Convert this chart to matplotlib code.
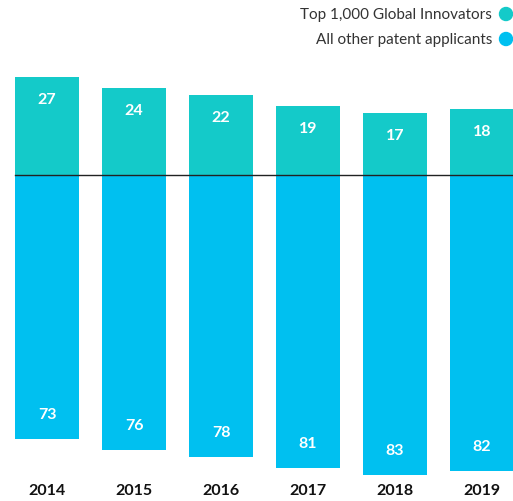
import numpy as np
import matplotlib.pyplot as plt
from matplotlib.patches import Ellipse

plt.rcParams['font.family'] = ['Lato', 'DejaVu Sans']

# podatki
years = ['2014', '2015', '2016', '2017', '2018', '2019']
top_innovators = [27, 24, 22, 19, 17, 18]
other_applicants = [73, 76, 78, 81, 83, 82]
legend_labels = ['Top 1,000 Global Innovators', 'All other patent applicants']

teal = '#14cac9'
cyan = '#00c0f0'

W, H = 513, 502
fig = plt.figure(figsize=(W / 100, H / 100), dpi=100)
ax = fig.add_axes([0, 0, 1, 1])

x = np.arange(len(years))
px_x = 87.0      # razmik med stolpci v pikslih
px_y = 3.62      # piksli na enoto
base_px = 175.5  # osnovna crta od vrha

ax.bar(x, top_innovators, width=64 / px_x, color=teal, align='center')
ax.bar(x, [-v for v in other_applicants], width=64 / px_x, color=cyan, align='center')

ax.set_xlim(-47 / px_x, (W - 47) / px_x)
ax.set_ylim(-(H - base_px) / px_y, base_px / px_y)

# osnovna crta
x0 = -0.5 * 64 / px_x
ax.plot([x0, (W - 47) / px_x], [0, 0], color='#222222', lw=1.0, zorder=3)

for i in range(len(years)):
    ax.text(x[i], top_innovators[i] - 22 / px_y, str(top_innovators[i]),
            ha='center', va='center', color='white', fontsize=11.5, fontweight='bold')
    ax.text(x[i], -other_applicants[i] + 25 / px_y, str(other_applicants[i]),
            ha='center', va='center', color='white', fontsize=11.5, fontweight='bold')
    ax.text(x[i], -(491 - base_px) / px_y, years[i],
            ha='center', va='center', color='#111111', fontsize=11.5, fontweight='bold')

ax.axis('off')

# legenda
legend_colors = [teal, cyan]
legend_y = [15, 40]
for lab, col, yy in zip(legend_labels, legend_colors, legend_y):
    fig.text(492 / W, 1 - yy / H, lab, ha='right', va='center',
             color='#333333', fontsize=11)
    fig.patches.append(Ellipse((506 / W, 1 - yy / H), 13 / W, 13 / H,
                               transform=fig.transFigure, color=col))

fig.savefig('out.png', dpi=100)
